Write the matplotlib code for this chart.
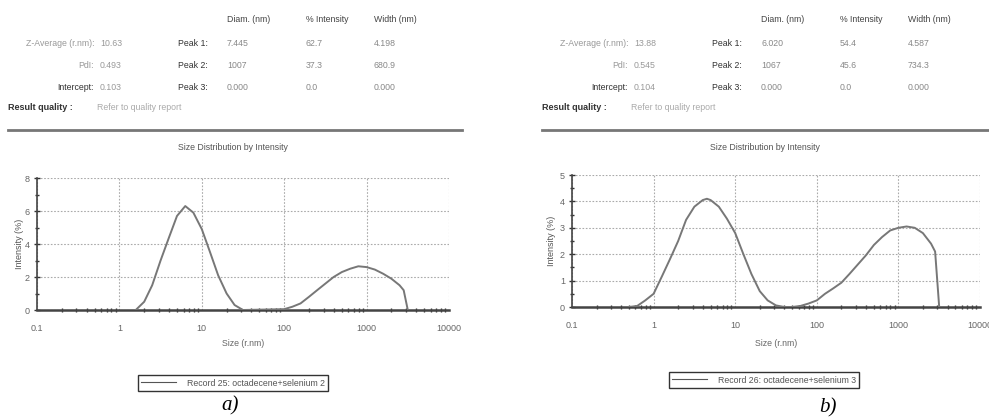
import matplotlib
matplotlib.use("Agg")
import matplotlib.pyplot as plt
from matplotlib.lines import Line2D
from matplotlib.ticker import LogLocator, MultipleLocator, FixedLocator, FixedFormatter

# Size distribution data (size in r.nm, intensity in %)
sizes_a = [1.58, 2.0, 2.5, 3.16, 4.0, 5.0, 6.3, 7.9, 10, 12.6, 15.8, 20, 25, 31.6,
           100, 126, 158, 200, 251, 316, 398, 501, 631, 794, 1000, 1259, 1585, 1995, 2512, 2818, 3162]
intensity_a = [0, 0.5, 1.5, 3.0, 4.4, 5.7, 6.3, 5.9, 4.9, 3.5, 2.1, 1.0, 0.3, 0,
               0.05, 0.2, 0.4, 0.8, 1.2, 1.6, 2.0, 2.3, 2.5, 2.65, 2.6, 2.45, 2.2, 1.9, 1.5, 1.2, 0]

sizes_b = [0.5, 0.63, 0.79, 1.0, 1.26, 1.58, 2.0, 2.5, 3.16, 4.0, 4.5, 5.0, 6.3, 7.9, 10,
           12.6, 15.8, 20, 25, 31.6, 40,
           50, 63, 79, 100, 126, 158, 200, 251, 316, 398, 501, 631, 794, 1000, 1259, 1585,
           1995, 2512, 2818, 3162]
intensity_b = [0, 0.04, 0.25, 0.5, 1.15, 1.8, 2.5, 3.3, 3.8, 4.05, 4.1, 4.05, 3.8, 3.35, 2.8,
               2.0, 1.25, 0.6, 0.25, 0.06, 0,
               0, 0.04, 0.13, 0.25, 0.5, 0.7, 0.92, 1.25, 1.6, 1.95, 2.35, 2.65, 2.9, 3.0, 3.05, 3.0,
               2.8, 2.4, 2.1, 0]

records = ["Record 25: octadecene+selenium 2", "Record 26: octadecene+selenium 3"]
panel_labels = ["a)", "b)"]

# result tables
headers = ["Diam. (nm)", "% Intensity", "Width (nm)"]
left_names = ["Z-Average (r.nm):", "PdI:", "Intercept:"]
left_vals_a = ["10.63", "0.493", "0.103"]
left_vals_b = ["13.88", "0.545", "0.104"]
peak_names = ["Peak 1:", "Peak 2:", "Peak 3:"]
peaks_a = [["7.445", "62.7", "4.198"], ["1007", "37.3", "680.9"], ["0.000", "0.0", "0.000"]]
peaks_b = [["6.020", "54.4", "4.587"], ["1067", "45.6", "734.3"], ["0.000", "0.0", "0.000"]]

W, H = 989, 419
fig = plt.figure(figsize=(W / 100, H / 100), dpi=100)
plt.rcParams['font.family'] = ['Liberation Sans', 'DejaVu Sans']


def px(x, y):
    return x / W, 1 - y / H


def draw_table(x0, lv, peaks):
    # x0 is the left edge of "Result quality"
    name_r = x0 + 86
    val_l = x0 + 92
    peak_r = x0 + 200
    cols = [x0 + 219, x0 + 298, x0 + 366]
    for c, h in zip(cols, headers):
        fig.text(*px(c, 20), h, fontsize=6.3, color="#444444", va="center")
    rows_y = [44, 66, 88]
    for i, y in enumerate(rows_y):
        col = "#333333" if i == 2 else "#999999"
        fig.text(*px(name_r, y), left_names[i], fontsize=6.3, color=col, ha="right", va="center")
        fig.text(*px(val_l, y), lv[i], fontsize=6.3, color="#999999", va="center")
        fig.text(*px(peak_r, y), peak_names[i], fontsize=6.3, color="#333333", ha="right", va="center")
        for c, v in zip(cols, peaks[i]):
            fig.text(*px(c, y), v, fontsize=6.3, color="#888888", va="center")
    fig.text(*px(x0, 107), "Result quality :", fontsize=6.5, color="#333333",
             fontweight="bold", va="center")
    fig.text(*px(x0 + 89, 107), "Refer to quality report", fontsize=6.3, color="#aaaaaa", va="center")


draw_table(8, left_vals_a, peaks_a)
draw_table(542, left_vals_b, peaks_b)

# separator lines
fig.add_artist(Line2D([8 / W, 462 / W], [1 - 129.5 / H] * 2, color="#777777", lw=2))
fig.add_artist(Line2D([542 / W, 1.0], [1 - 129.5 / H] * 2, color="#777777", lw=2))

axes_specs = [
    # left, bottom, width, height, ymax, major, minor
    (37, 310, 449, 178, 8, 2, 1),
    (572, 307, 980, 175, 5, 1, 0.5),
]
data = [(sizes_a, intensity_a), (sizes_b, intensity_b)]
title_x = [233, 765]
legend_c = [(233, 383), (764, 380)]
label_pos = [(230, 406), (828, 408)]
ylabel_x = [20, 552]

for k, (x0, yb, x1, yt, ymax, major, minor) in enumerate(axes_specs):
    ax = fig.add_axes([x0 / W, 1 - yb / H, (x1 - x0) / W, (yb - yt) / H])
    ax.set_xscale("log")
    ax.set_xlim(0.1, 10000)
    ax.set_ylim(0, ymax)
    s, v = data[k]
    ax.plot(s, v, color="#777777", lw=1.4, zorder=3)

    ax.xaxis.set_major_locator(FixedLocator([0.1, 1, 10, 100, 1000, 10000]))
    ax.xaxis.set_major_formatter(FixedFormatter(["0.1", "1", "10", "100", "1000", "10000"]))
    ax.xaxis.set_minor_locator(LogLocator(base=10, subs=range(2, 10)))
    ax.yaxis.set_major_locator(MultipleLocator(major))
    ax.yaxis.set_minor_locator(MultipleLocator(minor))

    ax.grid(True, which="major", color="#aaaaaa", ls=(0, (1.5, 1.5)), lw=0.8)
    for side in ("top", "right"):
        ax.spines[side].set_visible(False)
    ax.spines["left"].set_color("#444444")
    ax.spines["left"].set_linewidth(1.2)
    ax.spines["bottom"].set_color("#444444")
    ax.spines["bottom"].set_linewidth(1.8)
    ax.tick_params(which="both", direction="inout", color="#333333", labelsize=6.5,
                   labelcolor="#666666", pad=3)
    ax.tick_params(which="major", length=4, width=1)
    ax.tick_params(which="minor", length=3, width=1)
    ax.tick_params(axis="x", which="major", length=0, pad=10)

    fig.text(*px(title_x[k], 147), "Size Distribution by Intensity", fontsize=6.3,
             color="#555555", ha="center", va="center")
    fig.text(*px((x0 + x1) / 2, 343), "Size (r.nm)", fontsize=6.3, color="#666666",
             ha="center", va="center")
    fig.text(*px(ylabel_x[k], (yb + yt) / 2), "Intensity (%)", fontsize=6.5, color="#555555",
             ha="center", va="center", rotation=90)

    handle = Line2D([], [], color="#555555", lw=0.8)
    leg = ax.legend([handle], [records[k]], loc="center", bbox_to_anchor=px(*legend_c[k]),
                    bbox_transform=fig.transFigure, fontsize=6.3, fancybox=False,
                    edgecolor="#333333", framealpha=1, handlelength=4, borderpad=0.35,
                    handletextpad=1.2, labelcolor="#555555")
    leg.get_frame().set_linewidth(1)

    fig.text(*px(*label_pos[k]), panel_labels[k], fontsize=15, family="Liberation Serif",
             style="italic", ha="center", va="center")

fig.savefig("out.png", dpi=100)
